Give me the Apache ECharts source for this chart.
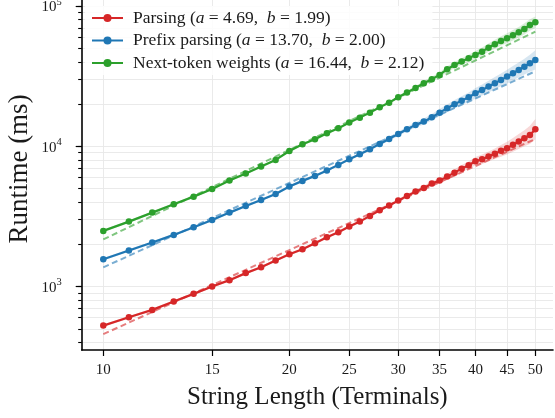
<!DOCTYPE html>
<html>
<head>
<meta charset="UTF-8">
<title>Runtime vs string length</title>
<script src="https://cdn.jsdelivr.net/npm/echarts@6/dist/echarts.min.js"></script>
<style>
  html, body { margin: 0; padding: 0; background: #fff; }
  #main { width: 555px; height: 418px; }
</style>
</head>
<body>
<div id="main"></div>
<script>
// string lengths (x)
var lengths = [10, 11, 12, 13, 14, 15, 16, 17, 18, 19, 20, 21, 22, 23, 24, 25, 26, 27, 28, 29, 30,
               31, 32, 33, 34, 35, 36, 37, 38, 39, 40, 41, 42, 43, 44, 45, 46, 47, 48, 49, 50];

// runtime in ms
var parsing = [527, 605, 682, 782, 887, 1000, 1111, 1247, 1375, 1532, 1700, 1848, 2039, 2248, 2441, 2677,
               2905, 3190, 3500, 3779, 4100, 4430, 4753, 5050, 5420, 5693, 6079, 6490, 6930, 7330, 7825,
               8085, 8450, 8832, 9283, 9700, 10240, 10810, 11420, 12060, 13240];
var prefixParsing = [1567, 1806, 2060, 2335, 2649, 2985, 3367, 3756, 4147, 4577, 5163, 5668, 6152, 6714,
                     7370, 8090, 8780, 9525, 10400, 11290, 12250, 13240, 14210, 15000, 16100, 17380, 18680,
                     19950, 21160, 22390, 23900, 25220, 26640, 28180, 29740, 31390, 33170, 35040, 36980,
                     39080, 41300];
var nextToken = [2494, 2905, 3367, 3864, 4377, 4966, 5695, 6387, 7166, 7998, 9250, 10350, 11230, 12390,
                 13450, 14750, 16010, 17380, 18990, 20480, 22390, 24150, 26080, 28180, 30080, 32280, 35440,
                 38020, 40170, 42460, 44800, 47300, 50500, 53400, 56400, 58900, 61900, 65000, 68700,
                 73300, 76600];

// half width of the shaded band, as a ratio (upper = v * r, lower = v / r)
var parsingBand = [1.02, 1.02, 1.02, 1.02, 1.02, 1.02, 1.02, 1.02, 1.02, 1.02, 1.02, 1.02, 1.02, 1.02,
                   1.02, 1.02, 1.02, 1.02, 1.02, 1.02, 1.025, 1.03, 1.03, 1.035, 1.04, 1.045, 1.05,
                   1.055, 1.06, 1.065, 1.07, 1.08, 1.085, 1.09, 1.10, 1.11, 1.12, 1.13, 1.14, 1.16, 1.18];
var prefixBand = [1.02, 1.02, 1.02, 1.02, 1.02, 1.02, 1.02, 1.02, 1.02, 1.02, 1.02, 1.02, 1.02, 1.02,
                  1.02, 1.02, 1.02, 1.02, 1.025, 1.03, 1.035, 1.04, 1.045, 1.05, 1.055, 1.06, 1.065,
                  1.07, 1.075, 1.08, 1.09, 1.095, 1.10, 1.105, 1.11, 1.12, 1.125, 1.13, 1.14, 1.15, 1.17];
var nextBand = [1.02, 1.02, 1.02, 1.02, 1.02, 1.02, 1.02, 1.02, 1.02, 1.02, 1.02, 1.02, 1.02, 1.02,
                1.02, 1.02, 1.02, 1.02, 1.02, 1.02, 1.025, 1.03, 1.03, 1.035, 1.04, 1.045, 1.05, 1.05,
                1.055, 1.06, 1.065, 1.07, 1.07, 1.075, 1.08, 1.085, 1.09, 1.09, 1.095, 1.10, 1.10];

// fitted power laws a*x^b, end points of the dashed lines
var fitX = [10, 50];
var parsingFit = [458, 11275];
var prefixFit = [1370, 34250];
var nextFit = [2167, 65700];

var names = ['Parsing', 'Prefix parsing', 'Next-token weights'];
var fitA = ['4.69', '13.70', '16.44'];
var fitB = ['1.99', '2.00', '2.12'];
var colors = ['#d62728', '#1f77b4', '#2ca02c'];

var xTicks = [10, 15, 20, 25, 30, 35, 40, 45, 50];
var yMajor = [1000, 10000, 100000];
var yMinor = [400, 500, 600, 700, 800, 900, 2000, 3000, 4000, 5000, 6000, 7000, 8000, 9000,
              20000, 30000, 40000, 50000, 60000, 70000, 80000, 90000];

var FONT = 'Liberation Serif';
var INK = '#1a1a1a';

function pairs(xs, ys) {
    return xs.map(function (x, i) { return [x, ys[i]]; });
}

var seriesList = [];
var values = [parsing, prefixParsing, nextToken];
var bands = [parsingBand, prefixBand, nextBand];
var fits = [parsingFit, prefixFit, nextFit];

// shaded bands, one polygon per series
values.forEach(function (vals, k) {
    var rows = vals.map(function (v, i) {
        return [lengths[i], v / bands[k][i], v * bands[k][i]];
    });
    seriesList.push({
        name: 'band' + k, type: 'custom', silent: true, z: 1,
        data: [0],
        renderItem: function (params, api) {
            var upper = rows.map(function (r) { return api.coord([r[0], r[2]]); });
            var lower = rows.map(function (r) { return api.coord([r[0], r[1]]); }).reverse();
            return {
                type: 'polygon',
                shape: { points: upper.concat(lower) },
                style: { fill: colors[k], opacity: 0.18 }
            };
        }
    });
});

// measured runtimes
values.forEach(function (vals, k) {
    seriesList.push({
        name: names[k], type: 'line', data: pairs(lengths, vals),
        symbol: 'circle', symbolSize: 6.5, showSymbol: true,
        itemStyle: { color: colors[k] },
        lineStyle: { color: colors[k], width: 2.2 },
        emphasis: { disabled: true }, z: 3
    });
});

// dashed fits
fits.forEach(function (f, k) {
    seriesList.push({
        name: 'fit' + k, type: 'line', data: pairs(fitX, f), silent: true,
        symbol: 'none', lineStyle: { color: colors[k], width: 2, type: [6, 3.5], opacity: 0.6 }, z: 4
    });
});

var chart = echarts.init(document.getElementById('main'));
chart.setOption({
    animation: false,
    backgroundColor: '#fff',
    grid: { left: 81.7, right: 2, top: 0, bottom: 68, containLabel: false, outerBoundsMode: 'none' },
    legend: {
        data: names, orient: 'vertical', left: 85, top: 6,
        itemWidth: 31, itemHeight: 10, itemGap: 4.5,
        backgroundColor: 'rgba(255,255,255,0.85)', padding: [3, 8, 3, 6],
        selectedMode: false,
        textStyle: {
            fontFamily: FONT, fontSize: 17.5, color: INK, lineHeight: 17.5, padding: [0, 0, 0, 5],
            rich: { it: { fontFamily: FONT, fontSize: 17.5, lineHeight: 17.5, fontStyle: 'italic', color: INK } }
        },
        formatter: function (name) {
            var k = names.indexOf(name);
            return name + ' ({it|a} = ' + fitA[k] + ',  {it|b} = ' + fitB[k] + ')';
        }
    },
    xAxis: {
        type: 'log', logBase: 10, min: 9.227, max: 53.4,
        name: 'String Length (Terminals)', nameLocation: 'middle', nameGap: 35, nameMoveOverlap: false,
        nameTextStyle: { fontFamily: FONT, fontSize: 25, color: INK },
        axisLine: { show: true, lineStyle: { color: '#000', width: 1.6 } },
        axisTick: { show: true, customValues: xTicks, length: 6, lineStyle: { color: '#000', width: 1.2 } },
        axisLabel: { customValues: xTicks, fontFamily: FONT, fontSize: 15, color: INK, margin: 13 },
        splitLine: { show: true, lineStyle: { color: '#e8e8e8', width: 0.9 } },
        minorTick: { show: false }
    },
    yAxis: [{
        type: 'log', logBase: 10, min: 353, max: 110400,
        name: 'Runtime (ms)', nameLocation: 'middle', nameGap: 48, nameRotate: 90, nameMoveOverlap: false,
        nameTextStyle: { fontFamily: FONT, fontSize: 27, color: INK, padding: [0, 0, 0, 12] },
        axisLine: { show: true, lineStyle: { color: '#000', width: 1.6 } },
        axisTick: { show: true, customValues: yMinor.concat(yMajor), length: 3.5,
                    lineStyle: { color: '#000', width: 1.1 } },
        axisLabel: {
            customValues: yMajor, margin: 20,
            formatter: function (v) {
                return '{b|10}{s|' + Math.round(Math.log10(v)) + '}';
            },
            rich: {
                b: { fontFamily: FONT, fontSize: 15, color: INK, padding: [3, 0, 0, 0] },
                s: { fontFamily: FONT, fontSize: 10.5, color: INK, padding: [0, 0, 8, 0] }
            }
        },
        splitLine: { show: true, lineStyle: { color: '#e8e8e8', width: 0.9 } }
    }, {
        type: 'log', logBase: 10, min: 353, max: 110400, position: 'left',
        axisLine: { show: false },
        axisTick: { show: true, customValues: yMajor, length: 6, lineStyle: { color: '#000', width: 1.2 } },
        axisLabel: { show: false },
        splitLine: { show: false }
    }],
    series: seriesList
});
</script>
</body>
</html>
